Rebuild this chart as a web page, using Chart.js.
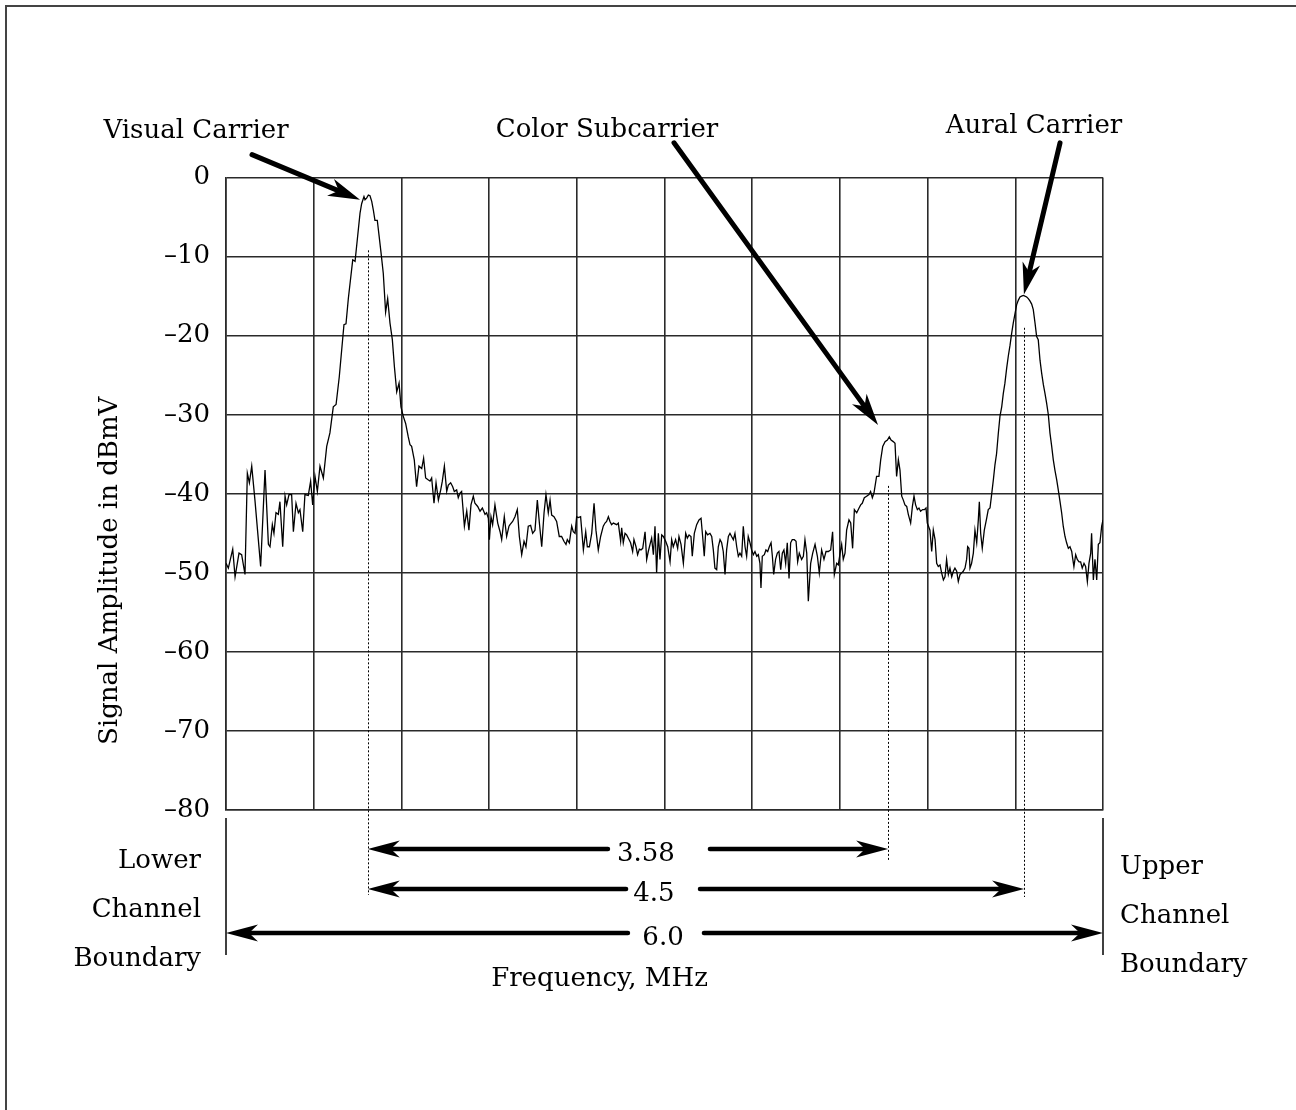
<!DOCTYPE html>
<html>
<head>
<meta charset="utf-8">
<title>TV channel spectrum</title>
<script src="https://cdn.jsdelivr.net/npm/chart.js@4.4.1/dist/chart.umd.min.js"></script>
<style>
  html, body { margin: 0; padding: 0; background: #fff; }
  #wrap { position: relative; width: 1296px; height: 1110px; }
</style>
</head>
<body>
<div id="wrap"><canvas id="spectrum"></canvas></div>
<script>
// =====================
// Trace
// =====================
const freqMHz = [
  0.000, 0.016, 0.046, 0.062, 0.089, 0.107, 0.130, 0.146, 0.160, 0.176, 0.198, 0.237, 0.267, 0.290, 0.301,
  0.317, 0.328, 0.342, 0.358, 0.369, 0.388, 0.404, 0.415, 0.431, 0.449, 0.461, 0.479, 0.495, 0.506, 0.525,
  0.540, 0.563, 0.579, 0.593, 0.609, 0.625, 0.643, 0.666, 0.689, 0.711, 0.734, 0.753, 0.775, 0.807, 0.821,
  0.837, 0.867, 0.883, 0.898, 0.917, 0.928, 0.944,
  0.951, 0.962, 0.974, 0.985, 0.997, 1.008, 1.019, 1.035, 1.047, 1.060, 1.076, 1.092, 1.106, 1.122, 1.138,
  1.152, 1.168, 1.184, 1.197, 1.213, 1.229, 1.247, 1.259, 1.270, 1.288, 1.304, 1.320, 1.339, 1.352, 1.366,
  1.380, 1.396, 1.407, 1.423, 1.437, 1.453, 1.469, 1.480, 1.494, 1.510, 1.521, 1.537, 1.551, 1.562, 1.578,
  1.589, 1.601, 1.612, 1.631, 1.647, 1.662, 1.676, 1.692, 1.703, 1.722, 1.738, 1.754, 1.772, 1.783, 1.795,
  1.802, 1.813, 1.824, 1.840, 1.859, 1.875, 1.886, 1.904, 1.920, 1.936,
  1.943, 1.961, 1.977, 1.993, 2.007, 2.023, 2.039, 2.052, 2.068, 2.084, 2.098, 2.114, 2.130, 2.144, 2.160,
  2.176, 2.189, 2.205, 2.217, 2.228, 2.244, 2.262, 2.280, 2.296, 2.312, 2.326, 2.335, 2.349, 2.365, 2.376,
  2.388, 2.399, 2.410, 2.426, 2.445, 2.461, 2.472, 2.486, 2.502, 2.518, 2.531, 2.547, 2.563, 2.581, 2.593,
  2.604, 2.616, 2.627, 2.638, 2.650, 2.673, 2.684, 2.700, 2.707, 2.718, 2.730, 2.741, 2.752, 2.768, 2.782,
  2.791, 2.805, 2.816, 2.828, 2.839, 2.851, 2.867, 2.878, 2.889, 2.901, 2.912, 2.924,
  2.935, 2.946, 2.958, 2.969, 2.981, 2.992, 3.008, 3.022, 3.038, 3.049, 3.060, 3.076, 3.090, 3.099, 3.113,
  3.129, 3.145, 3.156, 3.168, 3.181, 3.190, 3.204, 3.220, 3.236, 3.250, 3.261, 3.272, 3.282, 3.295, 3.311,
  3.323, 3.334, 3.345, 3.357, 3.368, 3.380, 3.391, 3.402, 3.414, 3.425, 3.437, 3.448, 3.459, 3.471, 3.482,
  3.494, 3.505, 3.516, 3.528, 3.539, 3.551, 3.562, 3.573, 3.585, 3.596, 3.608, 3.619, 3.631, 3.642, 3.653,
  3.660, 3.669, 3.683, 3.694, 3.706, 3.717, 3.729, 3.738, 3.747, 3.760, 3.772, 3.783, 3.795, 3.806, 3.817,
  3.829, 3.840, 3.852, 3.863, 3.874, 3.888, 3.900, 3.911, 3.922,
  3.938, 3.950, 3.961, 3.973, 3.984, 4.000, 4.014, 4.030, 4.046, 4.059, 4.075, 4.091, 4.105, 4.121, 4.137,
  4.150, 4.162, 4.178, 4.189, 4.205, 4.212, 4.223, 4.235, 4.246, 4.262, 4.274, 4.287, 4.299, 4.315, 4.331,
  4.342, 4.353, 4.367, 4.383, 4.399, 4.410, 4.422, 4.433, 4.451, 4.467, 4.479, 4.493, 4.509, 4.525, 4.538,
  4.550, 4.565, 4.577, 4.588, 4.600, 4.611, 4.623, 4.634, 4.645, 4.657, 4.668, 4.684, 4.696, 4.707, 4.718,
  4.730, 4.741, 4.752, 4.766, 4.778, 4.789, 4.798, 4.816, 4.828, 4.839, 4.851, 4.862, 4.873, 4.885, 4.896,
  4.908,
  4.919, 4.930, 4.942, 4.953, 4.965, 4.976, 4.987, 4.999, 5.010, 5.022, 5.033, 5.044, 5.056, 5.067, 5.074,
  5.083, 5.090, 5.101, 5.113, 5.124, 5.136, 5.147, 5.154, 5.163, 5.174, 5.188, 5.204, 5.215, 5.227, 5.238,
  5.250, 5.261, 5.272, 5.284, 5.295, 5.307, 5.318, 5.329, 5.341, 5.352, 5.364, 5.375, 5.386, 5.398, 5.409,
  5.421, 5.432, 5.443, 5.455, 5.466, 5.478, 5.489, 5.500, 5.512, 5.523, 5.535, 5.546, 5.557, 5.569, 5.580,
  5.592, 5.603, 5.614, 5.626, 5.637, 5.649, 5.660, 5.671, 5.683, 5.694, 5.706, 5.717, 5.728, 5.740, 5.751,
  5.763, 5.774, 5.786, 5.792, 5.801, 5.813, 5.824, 5.836, 5.847, 5.858, 5.870, 5.881, 5.893, 5.904, 5.916,
  5.922, 5.934, 5.945, 5.957, 5.968, 5.979, 5.991, 6.000
];
const levelDbmv = [
  -48.8, -49.4, -47.0, -50.5, -47.5, -47.7, -50.2, -37.4, -38.6, -36.5, -40.8, -49.2, -37.0, -46.4, -46.7,
  -43.9, -45.0, -42.4, -42.6, -41.0, -46.7, -40.3, -41.4, -40.1, -40.1, -44.8, -41.2, -42.4, -42.0, -44.8,
  -40.1, -40.2, -38.4, -41.4, -37.8, -39.7, -36.5, -38.0, -34.0, -32.3, -29.0, -28.7, -25.2, -18.6, -18.5,
  -15.3, -10.4, -10.6, -7.9, -4.5, -3.3, -2.4,
  -2.8, -2.6, -2.2, -2.3, -3.0, -4.1, -5.4, -5.4, -7.3, -9.4, -12.1, -17.0, -15.3, -18.4, -20.5,
  -23.9, -27.1, -26.0, -29.0, -30.2, -31.1, -32.8, -33.8, -34.0, -35.7, -39.1, -36.5, -36.8, -35.5, -38.0,
  -38.2, -38.4, -38.0, -41.2, -38.6, -40.8, -39.5, -38.4, -36.5, -39.7, -38.9, -38.6, -39.1, -39.7, -39.5,
  -40.5, -39.9, -39.7, -44.1, -42.2, -44.6, -41.4, -40.3, -41.2, -41.6, -42.2, -41.8, -42.6, -42.4, -43.1,
  -45.8, -42.9, -43.9, -41.4, -43.7, -44.8, -45.8, -42.9, -45.4, -44.1,
  -43.9, -43.5, -42.9, -42.0, -45.4, -47.7, -46.0, -46.7, -44.1, -44.0, -45.0, -44.6, -40.8, -43.7, -46.7,
  -42.4, -40.1, -42.4, -40.8, -42.7, -42.9, -43.5, -45.4, -45.4, -46.0, -46.4, -45.8, -46.2, -44.1, -44.8,
  -45.0, -42.9, -43.0, -42.9, -47.1, -44.8, -46.7, -46.7, -45.0, -41.2, -44.6, -47.1, -45.4, -44.1, -43.7,
  -43.5, -42.9, -43.5, -43.9, -43.7, -43.9, -43.7, -46.0, -44.3, -46.2, -45.0, -45.2, -45.6, -46.2, -47.3,
  -45.8, -46.7, -47.7, -47.0, -47.1, -46.9, -44.8, -48.3, -47.3, -46.4, -45.6, -47.7,
  -44.1, -50.0, -45.0, -48.3, -45.2, -45.4, -46.0, -46.7, -48.6, -45.8, -46.7, -45.8, -46.9, -45.4, -46.4,
  -48.8, -45.0, -45.6, -45.2, -45.4, -47.9, -45.0, -43.9, -43.3, -43.1, -45.4, -47.9, -44.8, -45.2, -45.0,
  -45.4, -47.1, -49.4, -49.6, -46.7, -45.8, -46.2, -47.3, -50.2, -47.1, -45.4, -45.0, -45.4, -45.8, -45.0,
  -46.7, -47.9, -47.5, -47.9, -44.1, -46.7, -47.9, -45.4, -46.2, -47.1, -47.7, -47.3, -47.9, -47.7, -48.8,
  -51.9, -47.9, -47.7, -47.1, -47.3, -46.7, -46.2, -47.9, -50.2, -48.3, -47.5, -47.3, -49.6, -47.5, -47.1,
  -48.8, -46.2, -50.7, -46.2, -45.8, -45.8, -46.0, -48.6, -47.5,
  -48.3, -47.9, -45.8, -47.5, -53.6, -48.8, -47.5, -46.4, -47.9, -50.0, -47.1, -48.3, -47.3, -47.3, -47.1,
  -44.8, -50.2, -48.8, -49.0, -47.1, -46.4, -48.3, -47.5, -44.6, -43.3, -43.7, -46.9, -42.0, -42.4, -41.8,
  -41.4, -41.2, -40.5, -40.3, -40.1, -39.7, -40.5, -39.9, -37.8, -37.8, -35.7, -34.0, -33.4, -33.2, -32.8,
  -33.2, -33.4, -33.6, -37.8, -35.7, -37.0, -40.3, -40.8, -41.4, -41.6, -42.6, -43.7, -41.6, -40.3, -41.4,
  -42.0, -41.8, -42.2, -42.0, -42.0, -41.8, -43.7, -44.6, -47.3, -44.6, -45.8, -48.8, -49.2, -49.0, -50.0,
  -50.9,
  -50.5, -48.3, -50.2, -49.4, -50.5, -49.8, -49.4, -49.8, -51.1, -50.2, -50.0, -49.8, -49.4, -48.3, -46.7,
  -46.9, -49.4, -48.8, -47.5, -44.6, -46.2, -43.3, -41.0, -45.0, -46.9, -44.6, -43.1, -42.0, -41.8, -40.1,
  -38.2, -36.3, -34.9, -32.3, -30.2, -29.0, -27.3, -26.0, -24.1, -22.6, -21.2, -19.7, -18.4, -17.2, -16.1,
  -15.5, -15.1, -15.0, -14.9, -15.0, -15.1, -15.3, -15.6, -16.0, -16.7, -18.4, -20.1, -20.5, -23.1, -24.7,
  -26.2, -27.3, -28.5, -30.0, -32.3, -34.0, -35.7, -37.0, -38.2, -39.5, -41.0, -42.4, -44.1, -45.4, -46.2,
  -46.9, -46.7, -47.3, -48.1, -49.2, -47.7, -48.3, -48.6, -48.6, -49.4, -48.8, -49.2, -51.1, -48.8, -47.5,
  -45.0, -50.9, -48.3, -50.9, -46.4, -46.2, -44.1, -43.3
];

// grid columns (MHz) and level axis limits
const gridFreqs = [0, 0.6, 1.2, 1.8, 2.4, 3.0, 3.6, 4.2, 4.8, 5.4, 6.0];
const levelMin = -80;
const levelMax = 0;
const levelStep = 10;

// =====================
// Annotations
// =====================
const carrierNames = ['Visual Carrier', 'Color Subcarrier', 'Aural Carrier'];
const carrierFreqs = [0.97, 4.53, 5.46];
const carrierLabelAt = [[-0.205, 5.0], [2.607, 5.1], [5.528, 5.6]];   // [MHz, dBmV] text baseline centre
const carrierArrowFrom = [[0.178, 2.9], [3.065, 4.4], [5.706, 4.4]];
const carrierArrowTo = [[0.917, -2.8], [4.461, -31.3], [5.459, -14.8]];
const carrierMarkTop = [-9.2, -39.0, -19.0];       // where the dotted marker starts
const carrierMarkBelow = [85, 50, 87];              // px below the plot where it ends

const spanLabels = ['3.58', '4.5', '6.0'];
const spanFrom = [0.97, 0.97, 0];
const spanTo = [4.53, 5.46, 6.0];
const spanTextAt = [2.873, 2.928, 2.990];
const spanGap = [[2.613, 3.311], [2.737, 3.243], [2.750, 3.270]];
const spanRowY = [39, 79, 123];                     // px below the plot

const lowerLabel = ['Lower', 'Channel', 'Boundary'];
const upperLabel = ['Upper', 'Channel', 'Boundary'];

const serif = "'DejaVu Serif', 'Liberation Serif', serif";
const ink = '#000';
const gridInk = '#2a2a2a';

function drawHead(ctx, x1, y1, x2, y2, len, half) {
    const a = Math.atan2(y2 - y1, x2 - x1);
    const c = Math.cos(a), s = Math.sin(a);
    ctx.beginPath();
    ctx.moveTo(x2, y2);
    ctx.lineTo(x2 - len * c + half * s, y2 - len * s - half * c);
    ctx.lineTo(x2 - len * 0.72 * c, y2 - len * 0.72 * s);
    ctx.lineTo(x2 - len * c - half * s, y2 - len * s + half * c);
    ctx.closePath();
    ctx.fill();
}

function drawArrow(ctx, x1, y1, x2, y2, w, len, half) {
    const a = Math.atan2(y2 - y1, x2 - x1);
    ctx.lineWidth = w;
    ctx.lineCap = 'round';
    ctx.beginPath();
    ctx.moveTo(x1, y1);
    ctx.lineTo(x2 - len * 0.7 * Math.cos(a), y2 - len * 0.7 * Math.sin(a));
    ctx.stroke();
    drawHead(ctx, x1, y1, x2, y2, len, half);
}

const annotations = {
    id: 'annotations',
    afterDraw(chart) {
        const {ctx, chartArea: area, scales: {x, y}} = chart;
        ctx.save();
        ctx.strokeStyle = ink;
        ctx.fillStyle = ink;

        // page frame
        ctx.strokeStyle = '#444';
        ctx.lineWidth = 2;
        ctx.beginPath();
        ctx.moveTo(6, chart.height);
        ctx.lineTo(6, 6);
        ctx.lineTo(chart.width, 6);
        ctx.stroke();
        ctx.strokeStyle = ink;

        // dotted carrier markers
        ctx.lineWidth = 1;
        ctx.setLineDash([2, 2]);
        carrierFreqs.forEach((f, i) => {
            const px = Math.round(x.getPixelForValue(f)) + 0.5;
            ctx.beginPath();
            ctx.moveTo(px, y.getPixelForValue(carrierMarkTop[i]));
            ctx.lineTo(px, area.bottom + carrierMarkBelow[i]);
            ctx.stroke();
        });
        ctx.setLineDash([]);

        // channel boundary ticks
        ctx.lineWidth = 1.5;
        [0, 6].forEach(f => {
            const px = x.getPixelForValue(f);
            ctx.beginPath();
            ctx.moveTo(px, area.bottom + 8);
            ctx.lineTo(px, area.bottom + 145);
            ctx.stroke();
        });

        // carrier callouts
        ctx.font = '26px ' + serif;
        ctx.textAlign = 'center';
        ctx.textBaseline = 'alphabetic';
        carrierNames.forEach((name, i) => {
            const [lf, ld] = carrierLabelAt[i];
            ctx.fillText(name, x.getPixelForValue(lf), y.getPixelForValue(ld));
            const [f1, d1] = carrierArrowFrom[i];
            const [f2, d2] = carrierArrowTo[i];
            drawArrow(ctx, x.getPixelForValue(f1), y.getPixelForValue(d1),
                x.getPixelForValue(f2), y.getPixelForValue(d2), 5, 32, 9);
        });

        // frequency spans
        spanLabels.forEach((lab, i) => {
            const py = area.bottom + spanRowY[i];
            const a = x.getPixelForValue(spanFrom[i]);
            const b = x.getPixelForValue(spanTo[i]);
            drawArrow(ctx, x.getPixelForValue(spanGap[i][0]), py, a, py, 4.5, 32, 8.5);
            drawArrow(ctx, x.getPixelForValue(spanGap[i][1]), py, b, py, 4.5, 32, 8.5);
            ctx.fillText(lab, x.getPixelForValue(spanTextAt[i]), py + 12);
        });

        // boundary captions
        ctx.textAlign = 'right';
        lowerLabel.forEach((t, i) => ctx.fillText(t, area.left - 25, area.bottom + 58 + i * 49));
        ctx.textAlign = 'left';
        upperLabel.forEach((t, i) => ctx.fillText(t, area.right + 17, area.bottom + 64 + i * 49));

        // axis titles
        ctx.textAlign = 'center';
        ctx.fillText('Frequency, MHz', (area.left + area.right) / 2 - 65, area.bottom + 176);
        ctx.translate(area.left - 109, (area.top + area.bottom) / 2 + 77);
        ctx.rotate(-Math.PI / 2);
        ctx.fillText('Signal Amplitude in dBmV', 0, 0);
        ctx.restore();
    }
};

new Chart(document.getElementById('spectrum'), {
    type: 'line',
    data: {
        datasets: [{
            data: freqMHz.map((f, i) => ({x: f, y: levelDbmv[i]})),
            borderColor: ink,
            borderWidth: 1.3,
            pointRadius: 0,
            tension: 0,
            fill: false
        }]
    },
    options: {
        responsive: true,
        maintainAspectRatio: false,
        animation: false,
        layout: { padding: { top: 177.6, right: 193, bottom: 0, left: 0 } },
        plugins: { legend: { display: false }, tooltip: { enabled: false } },
        scales: {
            x: {
                type: 'linear',
                min: 0,
                max: 6,
                afterBuildTicks: s => { s.ticks = gridFreqs.map(v => ({value: v})); },
                afterFit: s => { s.height = 300; },
                ticks: { display: false },
                grid: { color: gridInk, lineWidth: 1.6, drawTicks: false },
                border: { display: true, color: gridInk, width: 1.6 }
            },
            y: {
                min: levelMin,
                max: levelMax,
                afterFit: s => { s.width = 226; },
                ticks: {
                    stepSize: levelStep,
                    padding: 16,
                    color: ink,
                    font: { family: serif, size: 26 },
                    callback: v => v < 0 ? '\u2013' + Math.abs(v) : String(v)
                },
                grid: { color: gridInk, lineWidth: 1.6, drawTicks: false },
                border: { display: true, color: gridInk, width: 1.6 }
            }
        }
    },
    plugins: [annotations]
});
</script>
</body>
</html>
